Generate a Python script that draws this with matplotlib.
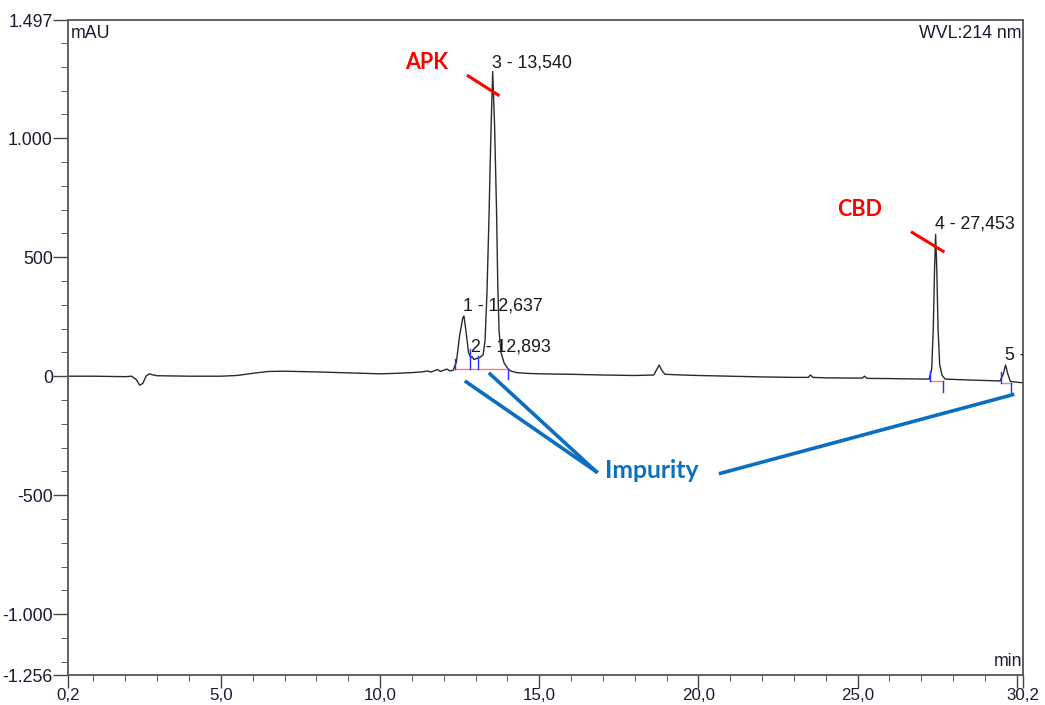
import matplotlib.pyplot as plt
import numpy as np

# chromatogram trace (min, mAU)
time = [0.2, 1.0, 2.0, 2.2, 2.35, 2.45, 2.55, 2.65, 2.75, 2.85, 3.0, 4.0, 5.0, 5.5, 6.0,
        6.5, 7.0, 8.0, 9.0, 10.0, 10.5, 11.0, 11.3, 11.5, 11.6, 11.8, 11.9, 12.0, 12.1,
        12.2, 12.3, 12.4, 12.5, 12.6, 12.637, 12.7, 12.78, 12.85, 12.893, 12.95, 13.05,
        13.15, 13.24, 13.3, 13.36, 13.42, 13.48, 13.54, 13.6, 13.66, 13.7, 13.74, 13.8,
        13.9, 14.0, 14.1, 14.3, 14.6, 15.0, 16.0, 17.0, 18.0, 18.6, 18.7, 18.77, 18.85,
        18.95, 19.5, 20.0, 21.0, 22.0, 23.0, 23.45, 23.52, 23.6, 24.0, 25.0, 25.15,
        25.22, 25.3, 26.0, 27.0, 27.25, 27.33, 27.38, 27.42, 27.453, 27.49, 27.53, 27.58,
        27.65, 27.75, 28.5, 29.0, 29.48, 29.58, 29.65, 29.72, 29.8, 30.0, 30.2]
signal = [0, 0, -2, 0, -15, -38, -30, 0, 10, 6, 2, 0, 0, 3, 12,
          20, 21, 18, 14, 10, 12, 15, 18, 22, 17, 28, 20, 25, 30,
          22, 25, 60, 170, 245, 253, 190, 100, 78, 82, 70, 75,
          80, 90, 150, 350, 650, 1000, 1280, 1050, 700, 380, 190, 100,
          55, 35, 22, 15, 12, 10, 8, 5, 3, 5, 30, 47, 25,
          8, 5, 3, 0, -3, -5, -5, 5, -5, -7, -8, -8,
          0, -9, -10, -12, -12, 30, 200, 450, 596, 450, 200, 50,
          5, -12, -16, -18, -20, 10, 47, 10, -22, -25, -28]

# peak labels (the last one runs into the right edge, as in the source)
peak_rt = [12.637, 12.893, 13.540, 27.453, 29.640]
peak_txt = ["1 - 12,637", "2 - 12,893", "3 - 13,540", "4 - 27,453", "5 -"]
peak_txt_y = [295, 123, 1317, 638, 85]

# integration baselines (start, end, level) and delimiter ticks (rt, y0, y1)
base_seg = [(12.33, 14.02, 30), (27.28, 27.70, -20), (29.51, 29.83, -28)]
delim = [(12.35, 30, 72), (12.83, 30, 115), (13.08, 30, 85), (14.02, 30, -11),
         (27.28, -20, 22), (27.70, -20, -65), (29.51, -28, 18), (29.83, -28, -74)]

xticks = [0.2, 5.0, 10.0, 15.0, 20.0, 25.0, 30.0, 30.2]
xtick_labels = ["0,2", "5,0", "10,0", "15,0", "20,0", "25,0", "", "30,2"]
yticks = [-1256, -1000, -500, 0, 500, 1000, 1497]
ytick_labels = ["-1.256", "-1.000", "-500", "0", "500", "1.000", "1.497"]

plt.rcParams['font.family'] = ['Liberation Sans', 'DejaVu Sans']
fig = plt.figure(figsize=(10.45, 7.05), dpi=100)
ax = fig.add_axes([0.0651, 0.0425, 0.979 - 0.0651, 0.9716 - 0.0425])

ax.plot(time, signal, color="#2a2a2a", lw=1.0)
for x0, x1, lev in base_seg:
    ax.plot([x0, x1], [lev, lev], color="#ff7b7b", lw=1.0)
for rt, y0, y1 in delim:
    ax.plot([rt, rt], [y0, y1], color="#2030ff", lw=1.0)
for rt, txt, ty in zip(peak_rt, peak_txt, peak_txt_y):
    ax.text(rt - 0.02, ty, txt, fontsize=12.8, color="#1a1a1a", va="center", ha="left",
            clip_on=True)

ax.set_xlim(0.2, 30.2)
ax.set_ylim(-1256, 1497)
ax.set_xticks(xticks)
ax.set_xticklabels(xtick_labels)
ax.set_xticks([t for t in range(1, 30) if t % 5], minor=True)
ax.set_yticks(yticks)
ax.set_yticklabels(ytick_labels)
ax.set_yticks(np.arange(-1200, 1497, 100), minor=True)
ax.tick_params(axis="both", which="major", labelsize=12.8, colors="#444444",
               labelcolor="#1a1a30", width=1.0)
ax.tick_params(axis="x", which="major", length=9, pad=0, labelsize=12.2)
ax.tick_params(axis="y", which="major", length=11, pad=0)
ax.tick_params(axis="x", which="minor", length=4, color="#444444")
ax.tick_params(axis="y", which="minor", length=5, color="#444444")
for s in ax.spines.values():
    s.set_color("#555555")
    s.set_linewidth(1.3)

ax.text(0.003, 0.992, "mAU", transform=ax.transAxes, fontsize=12.8, va="top", ha="left",
        color="#1a1a30")
ax.text(0.998, 0.992, "WVL:214 nm", transform=ax.transAxes, fontsize=12.8, va="top",
        ha="right", color="#1a1a30")
ax.text(0.999, 0.008, "min", transform=ax.transAxes, fontsize=12.8, va="bottom",
        ha="right", color="#1a1a30")

# annotations
ax.text(11.48, 1317, "APK", fontsize=15.5, fontweight="bold", color="red",
        family="Lato", ha="center", va="center")
ax.plot([12.77, 13.71], [1262, 1182], color="red", lw=2.2)
ax.text(25.08, 701, "CBD", fontsize=15.5, fontweight="bold", color="red",
        family="Lato", ha="center", va="center")
ax.plot([26.72, 27.69], [604, 525], color="red", lw=2.2)

blue = "#0a6fc0"
ax.text(17.07, -395, "Impurity", fontsize=17.8, fontweight="bold", color=blue,
        family="Lato", ha="left", va="center")
ax.plot([12.71, 16.79], [-24, -401], color=blue, lw=2.6)
ax.plot([13.46, 16.79], [9, -401], color=blue, lw=2.6)
ax.plot([20.70, 29.87], [-408, -78], color=blue, lw=2.6)

fig.savefig("out.png", dpi=100)
